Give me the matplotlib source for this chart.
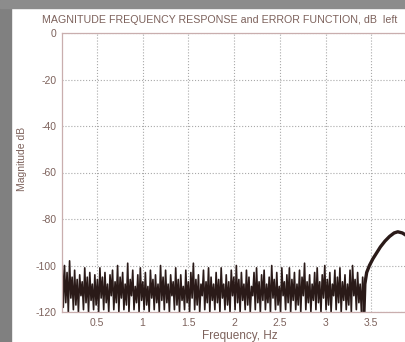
import numpy as np
import matplotlib.pyplot as plt
from matplotlib.patches import Rectangle

plt.rcParams['font.family'] = ['Liberation Sans', 'DejaVu Sans']

# stopband noise floor, dB
noise_db = [
    -95, -118, -100, -116, -103, -120, -98, -114, -105, -119, -102, -117, -106, -120, -104, -113, -107, -119, -101, -116,
    -105, -120, -103, -115, -108, -119, -104, -117, -106, -120, -101, -114, -105, -119, -103, -116, -108, -120, -104, -113,
    -102, -119, -107, -116, -100, -120, -105, -114, -103, -119, -108, -117, -99, -120, -106, -113, -102, -119, -109, -116,
    -104, -120, -101, -115, -107, -119, -103, -117, -109, -120, -102, -114, -106, -119, -104, -116, -108, -120, -100, -115,
    -105, -119, -102, -116, -108, -120, -104, -113, -107, -119, -101, -117, -106, -120, -104, -115, -109, -119, -102, -116,
    -107, -120, -103, -114, -99, -119, -106, -117, -104, -120, -108, -113, -102, -119, -107, -116, -101, -120, -105, -115,
    -108, -119, -103, -116, -106, -120, -101, -114, -108, -119, -104, -117, -107, -120, -102, -113, -105, -119, -100, -116,
    -106, -120, -103, -115, -108, -119, -102, -117, -105, -120, -109, -113, -103, -119, -101, -116, -107, -120, -104, -115,
    -102, -119, -108, -116, -105, -120, -100, -114, -106, -119, -103, -117, -109, -120, -101, -113, -107, -119, -104, -116,
    -101, -120, -106, -115, -103, -119, -108, -117, -102, -120, -105, -113, -99, -119, -107, -116, -104, -120, -108, -115,
    -103, -119, -101, -116, -107, -120, -104, -114, -100, -119, -106, -117, -103, -120, -108, -113, -102, -119, -105, -116,
    -101, -120, -107, -115, -104, -119, -108, -117, -102, -120, -100, -113, -106, -119, -103, -116, -108, -120, -105, -119,
]
noise_f0, noise_f1 = 0.12, 3.42

# transition band rising out of the floor
rise_f = [3.42, 3.43, 3.45, 3.48, 3.52, 3.56, 3.60, 3.65, 3.70, 3.75, 3.79, 3.84, 3.90, 3.96]
rise_db = [-120, -108, -103, -100, -97, -94.5, -92, -89.5, -87.5, -86, -85.5, -86, -87.5, -90]

xticks = [0.5, 1, 1.5, 2, 2.5, 3, 3.5]
yticks = [0, -20, -40, -60, -80, -100, -120]

txt = '#7d625c'
spine = '#c9aeae'

fig = plt.figure(figsize=(4.06, 3.42), dpi=100)
fig.patch.set_facecolor('white')
fig.patches.append(Rectangle((0, 0), 11 / 406, 1, transform=fig.transFigure,
                             color='#808080', zorder=0))
fig.patches.append(Rectangle((0, 1 - 8 / 342), 1, 8 / 342, transform=fig.transFigure,
                             color='#8c8c8c', zorder=0))

ax = fig.add_axes([62 / 406, 30 / 342, 355 / 406, 279 / 342])
noise_f = np.linspace(noise_f0, noise_f1, len(noise_db))
ax.plot(noise_f, noise_db, color='#2a1a18', lw=1.2)
ax.plot(rise_f, rise_db, color='#2a1a18', lw=2.4)

ax.set_xlim(0.12, 4.0)
ax.set_ylim(-120, 0)
ax.set_xticks(xticks)
ax.set_yticks(yticks)
ax.set_xticklabels([str(t) for t in xticks])
ax.set_yticklabels([str(t) for t in yticks])
ax.tick_params(colors=txt, labelsize=7.5, length=0, pad=4)
ax.grid(True, ls=':', color='#a9a9a9', lw=0.8)
for s in ax.spines.values():
    s.set_color(spine)
    s.set_linewidth(0.9)

ax.set_xlabel('Frequency, Hz', color=txt, fontsize=8.5, labelpad=2)
ax.set_ylabel('Magnitude dB', color=txt, fontsize=7.5)
ax.yaxis.set_label_coords(-0.099, 0.55)
fig.text(42 / 406, 1 - 20 / 342, 'MAGNITUDE FREQUENCY RESPONSE and ERROR FUNCTION, dB  left',
         color=txt, fontsize=7.7, va='center', ha='left')

fig.savefig('out.png', dpi=100)
